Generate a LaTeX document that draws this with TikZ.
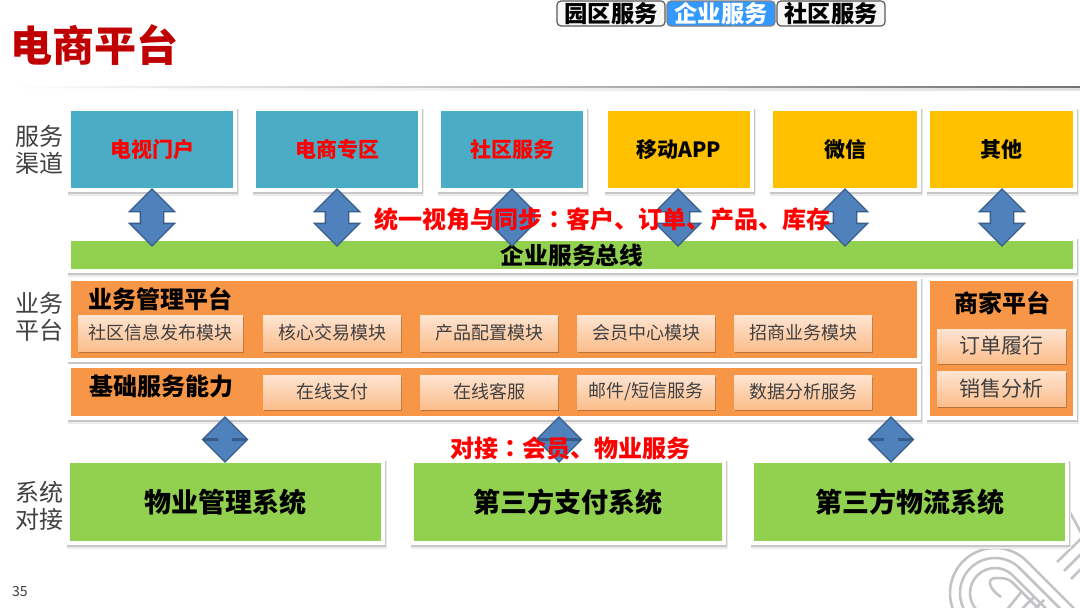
\documentclass[tikz,border=0pt]{standalone}
\usepackage{fontspec}
\setmainfont{Noto Sans CJK SC}
\newfontfamily\tcfont{Noto Sans CJK TC}
\usetikzlibrary{shapes.arrows}
\definecolor{teal1}{HTML}{4BACC6}
\definecolor{yel1}{HTML}{FFC000}
\definecolor{grn1}{HTML}{92D050}
\definecolor{org1}{HTML}{F79646}
\definecolor{arrf}{HTML}{4F81BD}
\definecolor{arrd}{HTML}{385D8A}
\definecolor{btnt}{HTML}{FEE4D2}
\definecolor{btnb}{HTML}{FBBE8C}
\definecolor{btns}{HTML}{B9733A}
\definecolor{txt1}{HTML}{404040}
\definecolor{tit1}{HTML}{C00000}
\definecolor{pat1}{HTML}{C2C3C7}
\definecolor{tabblue}{HTML}{3399FF}
\tikzset{
 plain/.style={inner sep=0pt,outer sep=0pt},
 chan/.style={plain,font=\bfseries\fontsize{15.75}{18}\selectfont},
 bigsys/.style={plain,fill=grn1,text=black,font=\bfseries\fontsize{20.25}{24}\selectfont},
 btn/.style={plain,top color=btnt,bottom color=btnb,text=txt1,font=\fontsize{13.5}{16}\selectfont},
 btnl/.style={btn,font=\fontsize{15.75}{18}\selectfont},
 tabb/.style={plain,draw=black!65,line width=.9pt,rounded corners=3pt,font=\bfseries\fontsize{17.5}{18}\selectfont},
 darrow/.style={shape=double arrow,draw=arrd,fill=arrf,line width=1pt,inner xsep=0pt,inner ysep=8.25pt,outer sep=0pt,rotate=90,
   minimum height=42.75pt,double arrow head extend=8.25pt},
 sarrow/.style={darrow,minimum height=33.75pt,inner ysep=5.25pt,double arrow head extend=10.5pt},
 sidel/.style={plain,align=center,text=txt1,font=\fontsize{18}{20.2}\selectfont},
 redt/.style={plain,text=red,font=\bfseries\fontsize{18}{20}\selectfont},
 headt/.style={plain,text=black,font=\bfseries\fontsize{18}{20}\selectfont},
 stripe/.style={draw=pat1,line width=1.9pt}
}
% name x1 y1 x2 y2 style text
\newcommand\bxx[7]{\node[plain,#6,minimum width={(#4-(#2))*0.75pt},minimum height={(#5-(#3))*0.75pt}] (#1) at ({(#2+#4)/2},{(#3+#5)/2}) {#7};}
% white frame with a soft shadow
\newcommand\frm[4]{%
 \fill[black!8] ({#1+1},{#2+2}) rectangle ({#3+2},{#4+4});
 \fill[black!22] ({#1+1},{#2+2}) rectangle ({#3+1},{#4+2});
 \fill[white] (#1,#2) rectangle (#3,#4);}
% button shadow
\newcommand\shd[4]{\fill[btns] ({#1+1},{#2+2}) rectangle ({#3+1},{#4+2.2});}
\begin{document}
\begin{tikzpicture}[x=0.75pt,y=-0.75pt]
\useasboundingbox (0,0) rectangle (1080,607);
\fill[white] (0,0) rectangle (1080,607);
% decorative stripes, bottom right
\begin{scope}
\clip (0,0) rectangle (1080,607);
\foreach \r/\s in {45/150,35/145,25/135} {
 \draw[stripe] (995,593) ++(\s:\r) arc[start angle=\s,end angle=315,radius=\r] -- ++(70,70);
}
\draw[stripe] (1001,597) .. controls (990,590) and (985,578) .. (996,578) .. controls (1003,578) and (1007,578) .. (1012,582) -- (1060,630);
\draw[stripe] (1005,612) -- (1022,591);
\draw[stripe] (1019,612) -- (1034,597);
\draw[stripe] (1032,612) -- (1044,600);
\draw[stripe] (1057,562) -- (1090,530);
\draw[stripe] (1064,571) -- (1090,545);
\draw[stripe] (1071,579) -- (1090,560);
\draw[stripe] (1066,505) -- (1085,540);
\end{scope}
% title and header
\node[plain,text=tit1,font=\bfseries\fontsize{31.5}{34}\selectfont] (title) at (94.5,45) {电商平台};
\shade[left color=white,right color=black!55] (10,86.5) rectangle (1080,88.2);
\shade[left color=white,right color=black!12] (10,88.2) rectangle (1080,90);
\bxx{tab1}{557}{1}{665}{26}{tabb,fill=black!3}{园区服务}
\bxx{tab2}{667}{1}{775}{26}{tabb,fill=tabblue,text=white,draw=black!50}{企业服务}
\bxx{tab3}{777}{1}{885}{26}{tabb,fill=black!3}{社区服务}
% left labels
\node[sidel] (side1) at (39,150) {服务\\渠道};
\node[sidel] (side2) at (39,317) {业务\\平台};
\node[sidel] (side3) at (39,506) {系统\\对接};
% channels
\frm{67}{107}{237}{192}\bxx{c1}{71}{111}{233}{188}{chan,fill=teal1,text=red}{电视门户}
\frm{252}{107}{422}{192}\bxx{c2}{256}{111}{418}{188}{chan,fill=teal1,text=red}{电商专区}
\frm{437}{107}{587}{192}\bxx{c3}{441}{111}{583}{188}{chan,fill=teal1,text=red}{社区服务}
\frm{604}{107}{754}{192}\bxx{c4}{608}{111}{750}{188}{chan,fill=yel1,text=black}{移动APP}
\frm{769}{107}{921}{192}\bxx{c5}{773}{111}{917}{188}{chan,fill=yel1,text=black}{微信}
\frm{926}{107}{1077}{192}\bxx{c6}{930}{111}{1073}{188}{chan,fill=yel1,text=black}{其他}
% bus
\frm{67}{237}{1077}{273}\bxx{bus}{71}{241}{1073}{269}{plain,fill=grn1,text=black,font=\bfseries\fontsize{17.8}{20}\selectfont}{企业服务总线}
% platforms
\frm{67}{277}{921}{362}\bxx{biz}{71}{281}{917}{358}{plain,fill=org1}{}
\frm{67}{364}{921}{420}\bxx{base}{71}{368}{917}{416}{plain,fill=org1}{}
\frm{926}{277}{1077}{420}\bxx{shop}{930}{281}{1073}{416}{plain,fill=org1}{}
\node[headt] (bizt) at (160,299) {业务管理平台};
\node[headt] (baset) at (161.5,386) {基础服务能力};
\node[headt] (shopt) at (1002,303) {商家平台};
\shd{78}{315}{243}{351}\bxx{m1}{78}{315}{243}{351}{btn}{社区信息发布模块}
\shd{263}{315}{401}{351}\bxx{m2}{263}{315}{401}{351}{btn}{核心交易模块}
\shd{420}{315}{558}{351}\bxx{m3}{420}{315}{558}{351}{btn}{产品配置模块}
\shd{577}{315}{715}{351}\bxx{m4}{577}{315}{715}{351}{btn}{会员中心模块}
\shd{734}{315}{872}{351}\bxx{m5}{734}{315}{872}{351}{btn}{招商业务模块}
\shd{263}{375}{401}{409}\bxx{b1}{263}{375}{401}{409}{btn}{在线支付}
\shd{420}{375}{558}{409}\bxx{b2}{420}{375}{558}{409}{btn}{在线客服}
\shd{577}{375}{715}{409}\bxx{b3}{577}{375}{715}{409}{btn}{邮件/短信服务}
\shd{734}{375}{872}{409}\bxx{b4}{734}{375}{872}{409}{btn}{数据分析服务}
\shd{937}{329}{1066}{363}\bxx{s1}{937}{329}{1066}{363}{btnl}{订单履行}
\shd{937}{371}{1066}{406}\bxx{s2}{937}{371}{1066}{406}{btnl}{销售分析}
% systems
\frm{66}{459}{385}{545}\bxx{y1}{70}{463}{381}{541}{bigsys}{物业管理系统}
\frm{410}{459}{726}{545}\bxx{y2}{414}{463}{722}{541}{bigsys}{第三方支付系统}
\frm{750}{459}{1069}{545}\bxx{y3}{754}{463}{1065}{541}{bigsys}{第三方物流系统}
% double arrows
\node[darrow] (a1) at (152,217.5) {};
\node[darrow] (a2) at (337,217.5) {};
\node[darrow,inner ysep=16.5pt,double arrow head extend=0.01pt] (a3) at (512,217.5) {};
\node[darrow] (a4) at (678,217.5) {};
\node[darrow] (a5) at (845,217.5) {};
\node[darrow] (a6) at (1002,217.5) {};
\node[sarrow] (d1) at (225,439.5) {};
\node[sarrow] (d2) at (559,439.5) {};
\node[sarrow] (d3) at (891,439.5) {};
% red captions
\node[redt] (cap1) at (602.5,219) {统一视角与同步{\tcfont ：}客户、订单、产品、库存};
\node[redt] (cap2) at (570,448) {对接{\tcfont ：}会员、物业服务};
\node[plain,text=txt1,font=\fontsize{10.5}{12}\selectfont] (pg) at (20,591) {35};
\end{tikzpicture}
\end{document}
